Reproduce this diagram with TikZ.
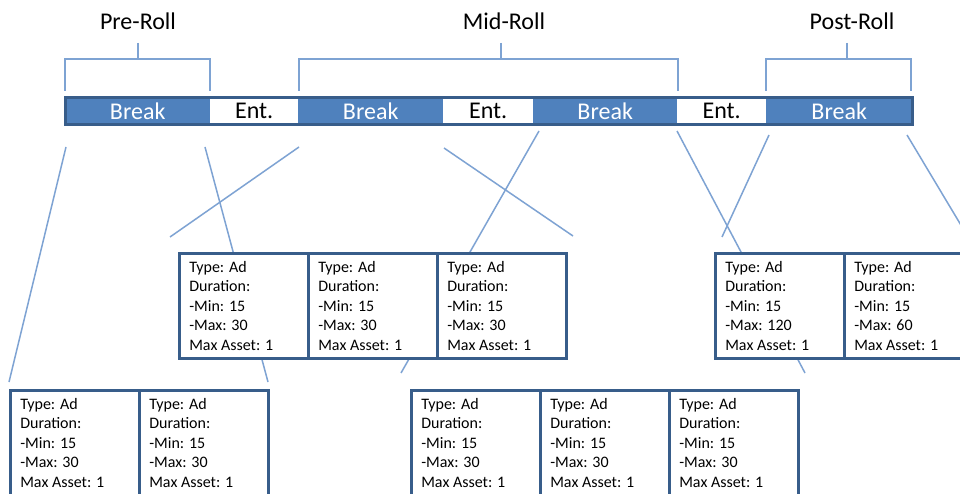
\documentclass[tikz,border=0pt]{standalone}
\usepackage{fontspec}
\setmainfont{Carlito}
\definecolor{barblue}{HTML}{4F81BD}
\definecolor{darkblue}{HTML}{385D8A}
\definecolor{lightline}{HTML}{7EA3D3}
\newcommand\adcell[2]{\parbox[c][#1][t]{129pt}{\fontsize{16pt}{19.5pt}\selectfont\raggedright\leftskip=10pt\relax\rule{0pt}{19pt}Type: Ad\\Duration:\\-Min: 15\\-Max: #2\\Max Asset: 1}}
\tikzset{
  seg/.style={anchor=west, minimum height=27pt, inner sep=0pt, font=\fontsize{24pt}{28pt}\selectfont},
  brkseg/.style={seg, fill=barblue, text=white},
  entseg/.style={seg, fill=white, text=black},
  barline/.style={draw=darkblue, line width=3pt},
  title/.style={font=\fontsize{24pt}{28pt}\selectfont, inner sep=0pt},
  bracket/.style={draw=lightline, line width=1.5pt},
  zoomline/.style={draw=lightline, line width=1.5pt},
  cell/.style={draw=darkblue, fill=white, line width=2.6pt, inner sep=0pt, anchor=north west},
}
\begin{document}
\begin{tikzpicture}[x=1pt, y=-1pt]
\useasboundingbox (0,0) rectangle (960,494);
\clip (0,0) rectangle (960,494);
\fill[white] (0,0) rectangle (960,494);
% titles
\node[title] (pre) at (138,21) {Pre-Roll};
\node[title] (mid) at (504,21) {Mid-Roll};
\node[title] (post) at (852,21) {Post-Roll};
% brackets
\coordinate (preT) at (138,43);
\coordinate (midT) at (501,43);
\coordinate (postT) at (847,43);
\draw[bracket] (65,91) -- (65,59) -- (210,59) -- (210,91);
\draw[bracket] (preT) -- (preT |- 0,59);
\draw[bracket] (299,91) -- (299,59) -- (678,59) -- (678,91);
\draw[bracket] (midT) -- (midT |- 0,59);
\draw[bracket] (766,91) -- (766,59) -- (911,59) -- (911,91);
\draw[bracket] (postT) -- (postT |- 0,59);
% bar
\node[brkseg, minimum width=145pt] (b1) at (65,111) {Break};
\node[entseg, minimum width=88pt] (e1) at (210,111) {Ent.};
\node[brkseg, minimum width=145pt] (b2) at (298,111) {Break};
\node[entseg, minimum width=90pt] (e2) at (443,111) {Ent.};
\node[brkseg, minimum width=144pt] (b3) at (533,111) {Break};
\node[entseg, minimum width=89pt] (e3) at (677,111) {Ent.};
\node[brkseg, minimum width=146pt] (b4) at (766,111) {Break};
\draw[barline] (b1.north west) rectangle (b4.south east);
% zoom lines
\coordinate (a1) at (66,147);  \coordinate (a2) at (9,382);
\coordinate (c1) at (205,147); \coordinate (c2) at (268,382);
\coordinate (d1) at (299,147); \coordinate (d2) at (170,237);
\coordinate (f1) at (444,148); \coordinate (f2) at (573,236);
\coordinate (g1) at (539,131); \coordinate (g2) at (401,373);
\coordinate (h1) at (677,131); \coordinate (h2) at (805,373);
\coordinate (i1) at (769,135); \coordinate (i2) at (722,237);
\coordinate (j1) at (907,135); \coordinate (j2) at (983,262);
\draw[zoomline] (a1) -- (a2);
\draw[zoomline] (c1) -- (c2);
\draw[zoomline] (d1) -- (d2);
\draw[zoomline] (f1) -- (f2);
\draw[zoomline] (g1) -- (g2);
\draw[zoomline] (h1) -- (h2);
\draw[zoomline] (i1) -- (i2);
\draw[zoomline] (j1) -- (j2);
% top middle group
\node[cell] (m1) at (178,252) {\adcell{105pt}{30}};
\node[cell] (m2) at (307,252) {\adcell{105pt}{30}};
\node[cell] (m3) at (436,252) {\adcell{105pt}{30}};
% top right group
\node[cell] (p1) at (714,252) {\adcell{105pt}{120}};
\node[cell] (p2) at (843,252) {\adcell{105pt}{60}};
% bottom left group
\node[cell] (r1) at (9,389) {\adcell{125pt}{30}};
\node[cell] (r2) at (138,389) {\adcell{125pt}{30}};
% bottom middle group
\node[cell] (s1) at (410,389) {\adcell{125pt}{30}};
\node[cell] (s2) at (539,389) {\adcell{125pt}{30}};
\node[cell] (s3) at (668,389) {\adcell{125pt}{30}};
\end{tikzpicture}
\end{document}
